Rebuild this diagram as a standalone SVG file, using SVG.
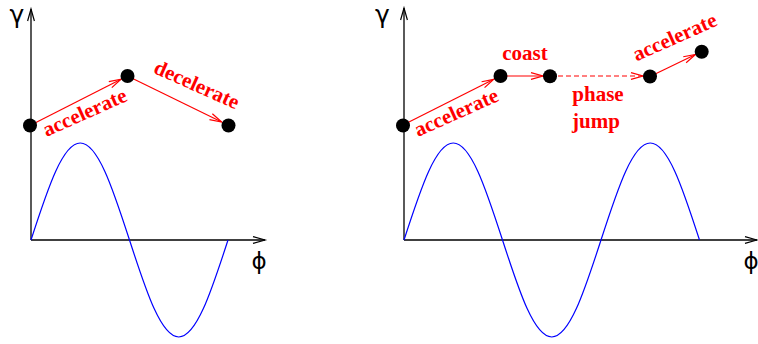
<svg xmlns="http://www.w3.org/2000/svg" width="758" height="344" viewBox="0 0 758 344">
<style>
.axis{stroke:#000;stroke-width:1.3;fill:none}
.sine{stroke:#0000ff;stroke-width:1.2;fill:none}
.conn{stroke:#ff0000;stroke-width:1.2;fill:none}
.dash{stroke-dasharray:5,3}
.dot{fill:#000}
.lbl{font-family:"Liberation Serif",serif;font-weight:bold;font-size:21px;fill:#ff0000}
.greek{font-family:"DejaVu Sans",sans-serif;font-size:25px;fill:#000}
.phi{font-family:"DejaVu Sans",sans-serif;font-size:23px;fill:#000}
</style>
<defs>
<marker id="ak" markerUnits="userSpaceOnUse" markerWidth="14" markerHeight="10" refX="12" refY="4" orient="auto" overflow="visible">
<path d="M0,0.6 L12,4 L0,7.4" fill="none" stroke="#000" stroke-width="1.2"/>
</marker>
<marker id="ar" markerUnits="userSpaceOnUse" markerWidth="14" markerHeight="10" refX="12" refY="4" orient="auto" overflow="visible">
<path d="M0,0.7 L12,4 L0,7.3" fill="none" stroke="#ff0000" stroke-width="1.2"/>
</marker>
</defs>
<rect width="758" height="344" fill="#fff"/>
<g id="left-plot">
<path class="axis" d="M31,240 V9" marker-end="url(#ak)"/>
<path class="axis" d="M31,240 H265" marker-end="url(#ak)"/>
<path class="sine" d="M31,240 C39.21,214.61 47.42,189.37 55.625,171.41 C63.83,153.45 72.04,143 80.25,143 C88.46,143 96.67,153.45 104.875,171.41 C113.08,189.37 121.29,214.61 129.5,240 C137.71,265.39 145.92,290.63 154.125,308.59 C162.33,326.55 170.54,337 178.75,337 C186.96,337 195.17,326.55 203.375,308.59 C211.58,290.63 219.79,265.39 228,240"/>
<text class="greek" x="17" y="23" text-anchor="middle">γ</text>
<text class="phi" x="259" y="269" text-anchor="middle">ϕ</text>
</g>
<g id="right-plot">
<path class="axis" d="M404,240 V8" marker-end="url(#ak)"/>
<path class="axis" d="M404,240 H757" marker-end="url(#ak)"/>
<path class="sine" d="M404,240 C412.21,214.61 420.42,189.37 428.625,171.41 C436.83,153.45 445.04,143 453.25,143 C461.46,143 469.67,153.45 477.875,171.41 C486.08,189.37 494.29,214.61 502.5,240 C510.71,265.39 518.92,290.63 527.125,308.59 C535.33,326.55 543.54,337 551.75,337 C559.96,337 568.17,326.55 576.375,308.59 C584.58,290.63 592.79,265.39 601,240 C609.21,214.61 617.42,189.37 625.625,171.41 C633.83,153.45 642.04,143 650.25,143 C658.46,143 666.67,153.45 674.875,171.41 C683.08,189.37 691.29,214.61 699.5,240"/>
<text class="greek" x="382.5" y="23" text-anchor="middle">γ</text>
<text class="phi" x="751" y="269" text-anchor="middle">ϕ</text>
</g>
<g id="connectors">
<line class="conn" x1="31" y1="125" x2="121" y2="79.2" marker-end="url(#ar)"/>
<line class="conn" x1="127.5" y1="76" x2="221.7" y2="122" marker-end="url(#ar)"/>
<line class="conn" x1="403" y1="125" x2="493.8" y2="79.3" marker-end="url(#ar)"/>
<line class="conn" x1="500" y1="76" x2="543" y2="76" marker-end="url(#ar)"/>
<line class="conn dash" x1="550" y1="76" x2="643" y2="76" marker-end="url(#ar)"/>
<line class="conn" x1="650" y1="76.5" x2="695.5" y2="54.5" marker-end="url(#ar)"/>
</g>
<g id="n1"><circle class="dot" cx="30" cy="125.5" r="7"/></g>
<g id="n2"><circle class="dot" cx="127.5" cy="76" r="7"/></g>
<g id="n3"><circle class="dot" cx="228.5" cy="125.5" r="7"/></g>
<g id="n4"><circle class="dot" cx="403" cy="125.5" r="7"/></g>
<g id="n5"><circle class="dot" cx="500.5" cy="76" r="7"/></g>
<g id="n6"><circle class="dot" cx="550" cy="76.3" r="7"/></g>
<g id="n7"><circle class="dot" cx="650" cy="76.5" r="7"/></g>
<g id="n8"><circle class="dot" cx="701.7" cy="51.7" r="7"/></g>
<g id="labels">
<text class="lbl" text-anchor="middle" transform="translate(87.5,118.7) rotate(-24)">accelerate</text>
<text class="lbl" text-anchor="middle" transform="translate(194,91) rotate(24)">decelerate</text>
<text class="lbl" text-anchor="middle" transform="translate(459,118.7) rotate(-24)">accelerate</text>
<text class="lbl" text-anchor="middle" transform="translate(677.5,43.3) rotate(-24)">accelerate</text>
<text class="lbl" x="525" y="60" text-anchor="middle">coast</text>
<text class="lbl" x="598" y="101" text-anchor="middle">phase</text>
<text class="lbl" x="596" y="128" text-anchor="middle">jump</text>
</g>
</svg>
